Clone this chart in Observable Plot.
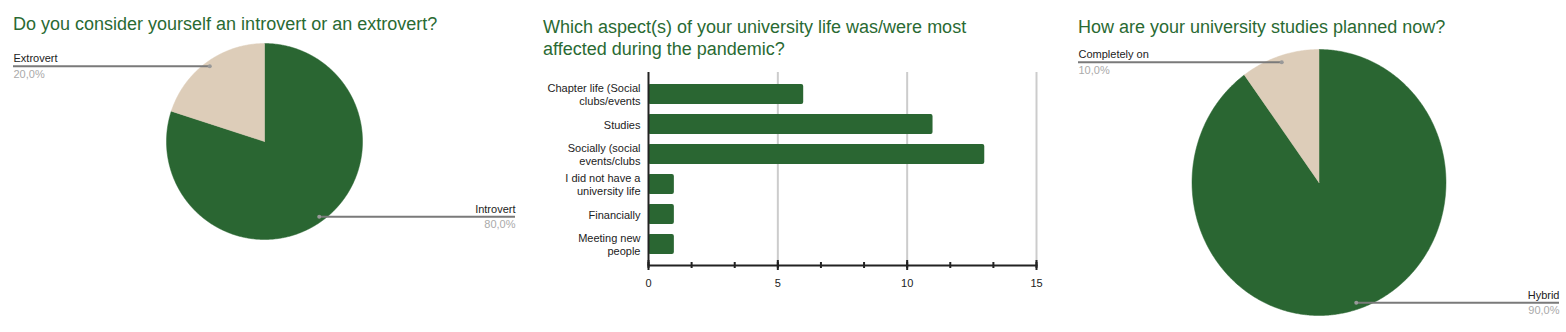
<!DOCTYPE html>
<html>
<head>
<meta charset="utf-8">
<script src="https://cdn.jsdelivr.net/npm/d3@7"></script>
<script src="https://cdn.jsdelivr.net/npm/@observablehq/plot@0.6"></script>
<style>
  html, body { margin: 0; padding: 0; background: #fff; }
  body { width: 1566px; height: 332px; position: relative; overflow: hidden;
         font-family: "Liberation Sans", Arial, sans-serif; }
  .panel { position: absolute; top: 0; height: 332px; }
  .title { position: absolute; font-size: 18px; line-height: 22px; color: #2a6a33; white-space: nowrap; z-index: 2; }
  .panel svg { position: absolute; left: 0; top: 0; }
</style>
</head>
<body>
<div class="panel" id="p1" style="left:0;width:520px;">
  <div class="title" style="left:13px;top:13px;">Do you consider yourself an introvert or an extrovert?</div>
</div>
<div class="panel" id="p2" style="left:520px;width:530px;">
  <div class="title" style="left:23px;top:16px;">Which aspect(s) of your university life was/were most<br>affected during the pandemic?</div>
</div>
<div class="panel" id="p3" style="left:1050px;width:516px;">
  <div class="title" style="left:28px;top:16px;">How are your university studies planned now?</div>
</div>
<script>
// ---- Data ----
const pie1Labels = ["Introvert", "Extrovert"];
const pie1Values = [80, 20];
const pie3Labels = ["Hybrid", "Completely on"];
const pie3Values = [90, 10];
const barCategories = [
  "Chapter life (Social clubs/events",
  "Studies",
  "Socially (social events/clubs",
  "I did not have a university life",
  "Financially",
  "Meeting new people"
];
const barTickLabels = [
  "Chapter life (Social\nclubs/events",
  "Studies",
  "Socially (social\nevents/clubs",
  "I did not have a\nuniversity life",
  "Financially",
  "Meeting new\npeople"
];
const barValues = [6, 11, 13, 1, 1, 1];
const xTicks = [0, 5, 10, 15];

// ---- Style ----
const GREEN = "#2a6632";
const TAN = "#ddcdb9";
const FONT = "'Liberation Sans', Arial, sans-serif";

function fmtPct(v, total) {
  return (v / total * 100).toFixed(1).replace(".", ",") + "%";
}

function pieChart(values, labels, colors, o) {
  const total = d3.sum(values);
  const arcs = d3.pie().sort(null)(values);
  const points = [];
  arcs.forEach((a, i) => {
    const name = labels[i];
    points.push({slice: name, x: 0, y: 0});
    const n = Math.max(2, Math.ceil((a.endAngle - a.startAngle) / (Math.PI / 360)));
    for (let k = 0; k <= n; k++) {
      const t = a.startAngle + (a.endAngle - a.startAngle) * k / n;
      points.push({slice: name, x: Math.sin(t), y: Math.cos(t)});
    }
    points.push({slice: name, x: 0, y: 0});
  });
  const lab = arcs.map((a, i) => {
    const m = (a.startAngle + a.endAngle) / 2;
    const lx = 0.95 * Math.sin(m), ly = 0.95 * Math.cos(m);
    return {name: labels[i], pct: fmtPct(values[i], total), lx, ly, side: lx < 0 ? -1 : 1};
  });
  const left = lab.filter(d => d.side < 0), right = lab.filter(d => d.side > 0);
  const ext = o.ext;
  return Plot.plot({
    width: o.width, height: 332,
    marginLeft: o.marginLeft, marginRight: o.marginRight,
    marginTop: o.marginTop, marginBottom: o.marginBottom,
    style: {fontFamily: FONT, fontSize: "11px", background: "transparent", overflow: "visible"},
    x: {domain: [-ext, ext], axis: null},
    y: {domain: [-1, 1], axis: null},
    color: {domain: labels, range: colors},
    marks: [
      Plot.line(points, {x: "x", y: "y", z: "slice", fill: "slice", stroke: "slice", strokeWidth: 0.5}),
      Plot.ruleY(lab, {y: "ly", x1: "lx", x2: d => d.side * ext, stroke: "#7a7a7a", strokeWidth: 2}),
      Plot.dot(lab, {x: "lx", y: "ly", r: 2, fill: "#999", stroke: null}),
      Plot.text(left, {y: "ly", text: "name", frameAnchor: "left", textAnchor: "start", lineAnchor: "bottom", dy: -4, fill: "#222"}),
      Plot.text(left, {y: "ly", text: "pct", frameAnchor: "left", textAnchor: "start", lineAnchor: "bottom", dy: 11.5, fill: "#aaa"}),
      Plot.text(right, {y: "ly", text: "name", frameAnchor: "right", textAnchor: "end", lineAnchor: "bottom", dy: -4, fill: "#222"}),
      Plot.text(right, {y: "ly", text: "pct", frameAnchor: "right", textAnchor: "end", lineAnchor: "bottom", dy: 11.5, fill: "#aaa"})
    ]
  });
}

// Panel 1
document.getElementById("p1").appendChild(pieChart(pie1Values, pie1Labels, [GREEN, TAN], {
  width: 520, marginLeft: 13, marginRight: 5, marginTop: 43, marginBottom: 93, ext: 2.561
}));

// Panel 3
document.getElementById("p3").appendChild(pieChart(pie3Values, pie3Labels, [GREEN, TAN], {
  width: 516, marginLeft: 28, marginRight: 7, marginTop: 49, marginBottom: 17, ext: 1.894
}));

// Panel 2: bar chart
const barData = barCategories.map((c, i) => ({cat: c, value: barValues[i], label: barTickLabels[i]}));
const minorTicks = d3.range(0, 15.001, 5 / 3);
document.getElementById("p2").appendChild(Plot.plot({
  width: 530, height: 332,
  marginLeft: 128, marginRight: 14, marginTop: 72, marginBottom: 67,
  style: {fontFamily: FONT, fontSize: "11px", color: "#222", background: "transparent", overflow: "visible"},
  x: {domain: [0, 15], label: null},
  y: {domain: barCategories, axis: null, paddingInner: 0.35, paddingOuter: 0.33},
  marks: [
    Plot.ruleX(xTicks.filter(t => t > 0), {stroke: "#cccccc", strokeWidth: 2}),
    Plot.barX(barData, {y: "cat", x: "value", fill: GREEN, rx: 2}),
    Plot.ruleX([0], {stroke: "#222", strokeWidth: 2}),
    Plot.frame({anchor: "bottom", stroke: "#222", strokeWidth: 2}),
    Plot.axisX({ticks: minorTicks, tickSize: 6, dy: -3, tickFormat: () => "", strokeWidth: 2, label: null}),
    Plot.axisX({ticks: xTicks, tickSize: 10, dy: -5, tickFormat: () => "", strokeWidth: 2, label: null}),
    Plot.axisX({ticks: xTicks, tickSize: 0, tickPadding: 14, label: null}),
    Plot.text(barData, {y: "cat", text: "label", frameAnchor: "left", textAnchor: "end", dx: -8, lineHeight: 1.15, fill: "#222"})
  ]
}));
</script>
</body>
</html>
